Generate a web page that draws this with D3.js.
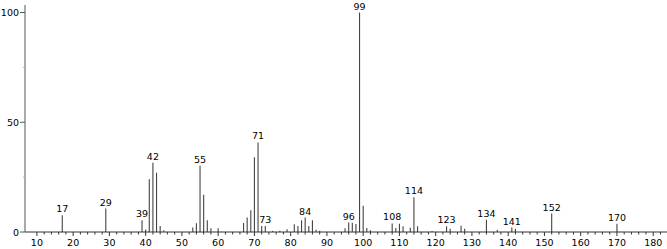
<!DOCTYPE html>
<html><head><meta charset="utf-8">
<script src="https://cdn.jsdelivr.net/npm/d3@7/dist/d3.min.js"></script>
<style>
html,body{margin:0;padding:0;background:#fff;}
svg text{font-family:"DejaVu Sans",Verdana,sans-serif;font-size:9.5px;fill:#000;}
</style></head>
<body><svg id="c" width="667" height="249"></svg>
<script>
const mz =        [17, 29, 39, 40, 41, 42, 43, 44, 45, 53, 54, 55, 56, 57, 58, 60, 67, 68, 69, 70, 71, 72, 73, 75, 77, 79, 81, 82, 83, 84, 85, 86, 87, 88, 95, 96, 97, 98, 99, 100, 101, 102, 108, 109, 110, 111, 113, 114, 115, 119, 123, 124, 127, 128, 134, 137, 141, 142, 152, 170];
const intensity = [7.6, 10.7, 5.3, 1.1, 24, 31.5, 27, 2.7, 0.8, 2, 4, 30.2, 17, 5.3, 1.7, 1.7, 4.1, 6.6, 9.9, 34, 40.8, 2.7, 2.7, 0.5, 0.6, 1.2, 3.5, 2.7, 5.3, 6.6, 2.7, 5.3, 1, 0.6, 1.7, 4.3, 4.2, 3.6, 100, 12, 1.8, 0.8, 3.9, 1.8, 3.8, 2.6, 1.9, 15.8, 2.6, 0.5, 2.6, 1.5, 2.9, 1.5, 5.6, 1, 2, 1.4, 8.4, 3.8];
const labeled =   [17, 29, 39, 42, 55, 71, 73, 84, 96, 99, 108, 114, 123, 134, 141, 152, 170];
const xTicks =    [10, 20, 30, 40, 50, 60, 70, 80, 90, 100, 110, 120, 130, 140, 150, 160, 170, 180];
const yTicks =    [0, 50, 100];

const svg = d3.select("#c");
const x = d3.scaleLinear().domain([10, 180]).range([36.9, 653.2]);
const y = d3.scaleLinear().domain([0, 100]).range([232, 12.5]);

// bars
svg.append("g").selectAll("line").data(mz).join("line")
  .attr("x1", d => x(d)).attr("x2", d => x(d))
  .attr("y1", y(0)).attr("y2", (d, i) => y(intensity[i]))
  .attr("stroke", "#444").attr("stroke-width", 1.1);

// peak labels
svg.append("g").selectAll("text").data(labeled).join("text")
  .attr("x", d => x(d)).attr("y", d => y(intensity[mz.indexOf(d)]) - 3)
  .attr("text-anchor", "middle").text(d => d);

// x axis
const xa = svg.append("g").attr("transform", `translate(0,${y(0)})`);
xa.append("line").attr("x1", 25).attr("x2", 667).attr("stroke", "#333");
const minor = d3.range(10, 185, 2);
xa.selectAll("line.mt").data(minor).join("line").attr("class","mt")
  .attr("x1", d => x(d)).attr("x2", d => x(d)).attr("y1", 0)
  .attr("y2", d => d % 10 === 0 ? 4 : 2.5).attr("stroke", "#333");
xa.selectAll("text").data(xTicks).join("text")
  .attr("x", d => x(d)).attr("y", 14).attr("text-anchor", "middle").text(d => d);

// y axis
const ya = svg.append("g");
ya.append("line").attr("x1", 25).attr("x2", 25).attr("y1", 5).attr("y2", y(0)).attr("stroke", "#555");
ya.selectAll("line.t").data(yTicks).join("line").attr("class","t")
  .attr("x1", 20).attr("x2", 25).attr("y1", d => y(d)).attr("y2", d => y(d)).attr("stroke", "#555");
ya.selectAll("line.m").data([25, 75]).join("line").attr("class","m")
  .attr("x1", 23).attr("x2", 25).attr("y1", d => y(d)).attr("y2", d => y(d)).attr("stroke", "#bbb");
ya.selectAll("text").data(yTicks).join("text")
  .attr("x", 19).attr("y", d => y(d) + 3.5).attr("text-anchor", "end").text(d => d);
</script></body></html>
